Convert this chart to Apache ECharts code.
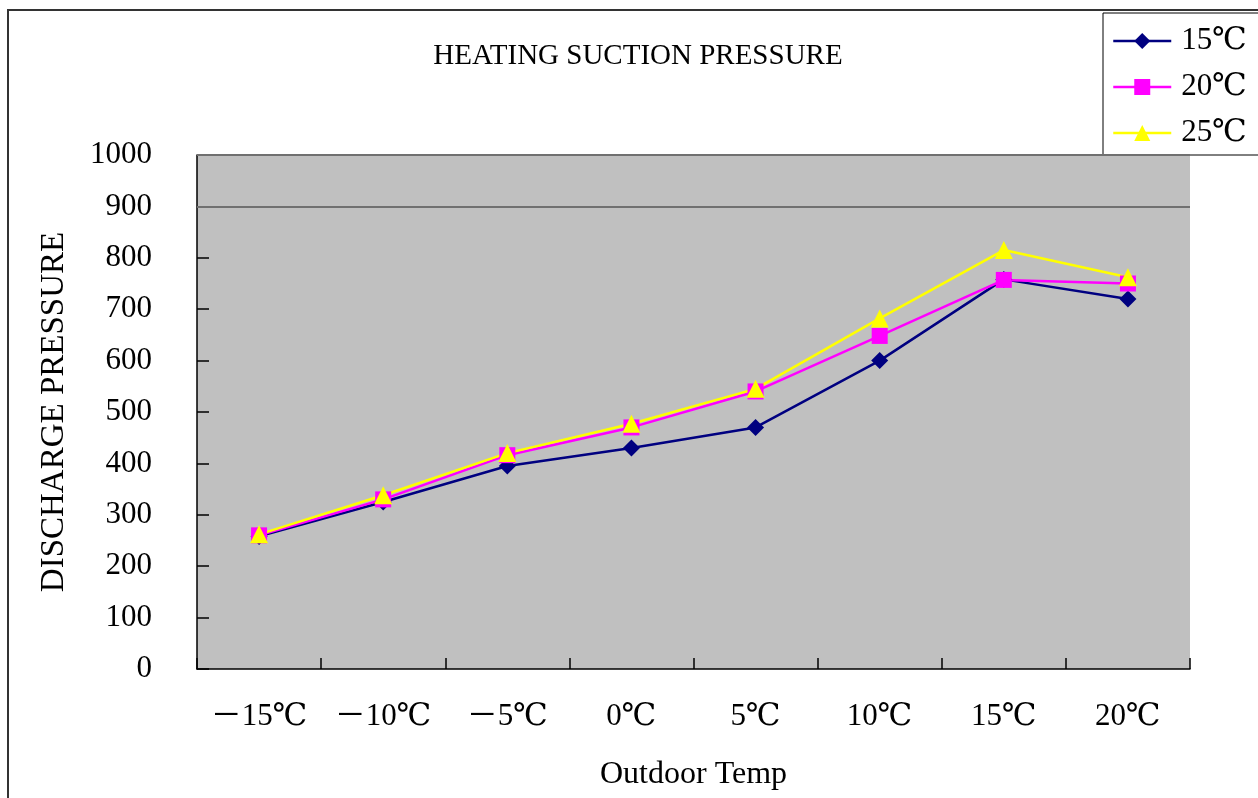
<!DOCTYPE html>
<html>
<head>
<meta charset="utf-8">
<script src="https://cdn.jsdelivr.net/npm/echarts@6/dist/echarts.min.js"></script>
<style>
  html, body { margin: 0; padding: 0; background: #fff; }
  #chart { width: 1258px; height: 798px; }
</style>
</head>
<body>
<div id="chart"></div>
<script>
// Outdoor temperature categories
const categories = ['－15℃', '－10℃', '－5℃', '0℃', '5℃', '10℃', '15℃', '20℃'];
// Pressure readings per indoor temperature
const series15 = [258, 325, 395, 430, 470, 600, 758, 720];
const series20 = [260, 330, 416, 470, 540, 648, 757, 750];
const series25 = [262, 338, 420, 477, 545, 682, 815, 762];
const seriesNames = ['15℃', '20℃', '25℃'];
// Horizontal guide lines drawn across the plot
const guideLevels = [900, 1000];

const FONT = "'Liberation Serif', 'DejaVu Serif', 'Noto Sans CJK SC', serif";

const chart = echarts.init(document.getElementById('chart'), null, { renderer: 'canvas' });

function lineSeries(name, data, color, symbol, size, extra) {
  return Object.assign({
    name: name,
    type: 'line',
    data: data,
    symbol: symbol,
    symbolSize: size,
    showAllSymbol: true,
    lineStyle: { color: color, width: 2.5 },
    itemStyle: { color: color, borderWidth: 0 },
    emphasis: { disabled: true },
    animation: false
  }, extra || {});
}

chart.setOption({
  animation: false,
  backgroundColor: '#ffffff',
  title: {
    text: 'HEATING SUCTION PRESSURE',
    left: 633,
    top: 37,
    textAlign: 'center',
    textStyle: { fontFamily: FONT, fontSize: 29, fontWeight: 'normal', color: '#000' }
  },
  legend: {
    orient: 'vertical',
    left: 1103,
    top: 13,
    width: 153,
    padding: [12, 12, 6, 9],
    itemGap: 14,
    itemWidth: 58,
    itemHeight: 20,
    borderColor: '#000',
    borderWidth: 1,
    backgroundColor: '#fff',
    data: seriesNames,
    lineStyle: { width: 2.5 },
    textStyle: { fontFamily: FONT, fontSize: 31, color: '#000', lineHeight: 32, padding: [0, 0, 0, 5] }
  },
  grid: {
    left: 197,
    right: 68,
    top: 155,
    bottom: 129,
    show: true,
    backgroundColor: '#C0C0C0',
    borderWidth: 0
  },
  xAxis: {
    type: 'category',
    data: categories,
    boundaryGap: true,
    name: 'Outdoor Temp',
    nameLocation: 'middle',
    nameGap: 90,
    nameTextStyle: { fontFamily: FONT, fontSize: 32, color: '#000' },
    axisLine: { lineStyle: { color: '#000', width: 1.5 } },
    axisTick: { show: true, inside: true, length: 11, lineStyle: { color: '#000', width: 1.5 } },
    axisLabel: { interval: 0, fontFamily: FONT, fontSize: 31, color: '#000', margin: 32 },
    splitLine: { show: false }
  },
  yAxis: {
    type: 'value',
    min: 0,
    max: 1000,
    interval: 100,
    name: 'DISCHARGE PRESSURE',
    nameLocation: 'middle',
    nameGap: 126,
    nameRotate: 90,
    nameTextStyle: { fontFamily: FONT, fontSize: 33, color: '#000' },
    axisLine: { show: true, lineStyle: { color: '#000', width: 1.5 } },
    axisTick: { show: true, inside: true, length: 12, lineStyle: { color: '#000', width: 1.5 } },
    axisLabel: { fontFamily: FONT, fontSize: 31, color: '#000', margin: 45, formatter: v => String(v) },
    splitLine: { show: false }
  },
  graphic: [{
    type: 'rect',
    shape: { x: 8, y: 10, width: 1400, height: 1000 },
    style: { fill: null, stroke: '#333', lineWidth: 2 },
    silent: true,
    z: -1
  }],
  series: [
    lineSeries(seriesNames[0], series15, '#000080', 'diamond', 17, {
      markLine: {
        silent: true,
        symbol: 'none',
        label: { show: false },
        lineStyle: { color: '#707070', width: 2, type: 'solid' },
        data: guideLevels.map(v => ({ yAxis: v }))
      }
    }),
    lineSeries(seriesNames[1], series20, '#FF00FF', 'rect', 16),
    lineSeries(seriesNames[2], series25, '#FFFF00', 'triangle', 18)
  ]
});
</script>
</body>
</html>
